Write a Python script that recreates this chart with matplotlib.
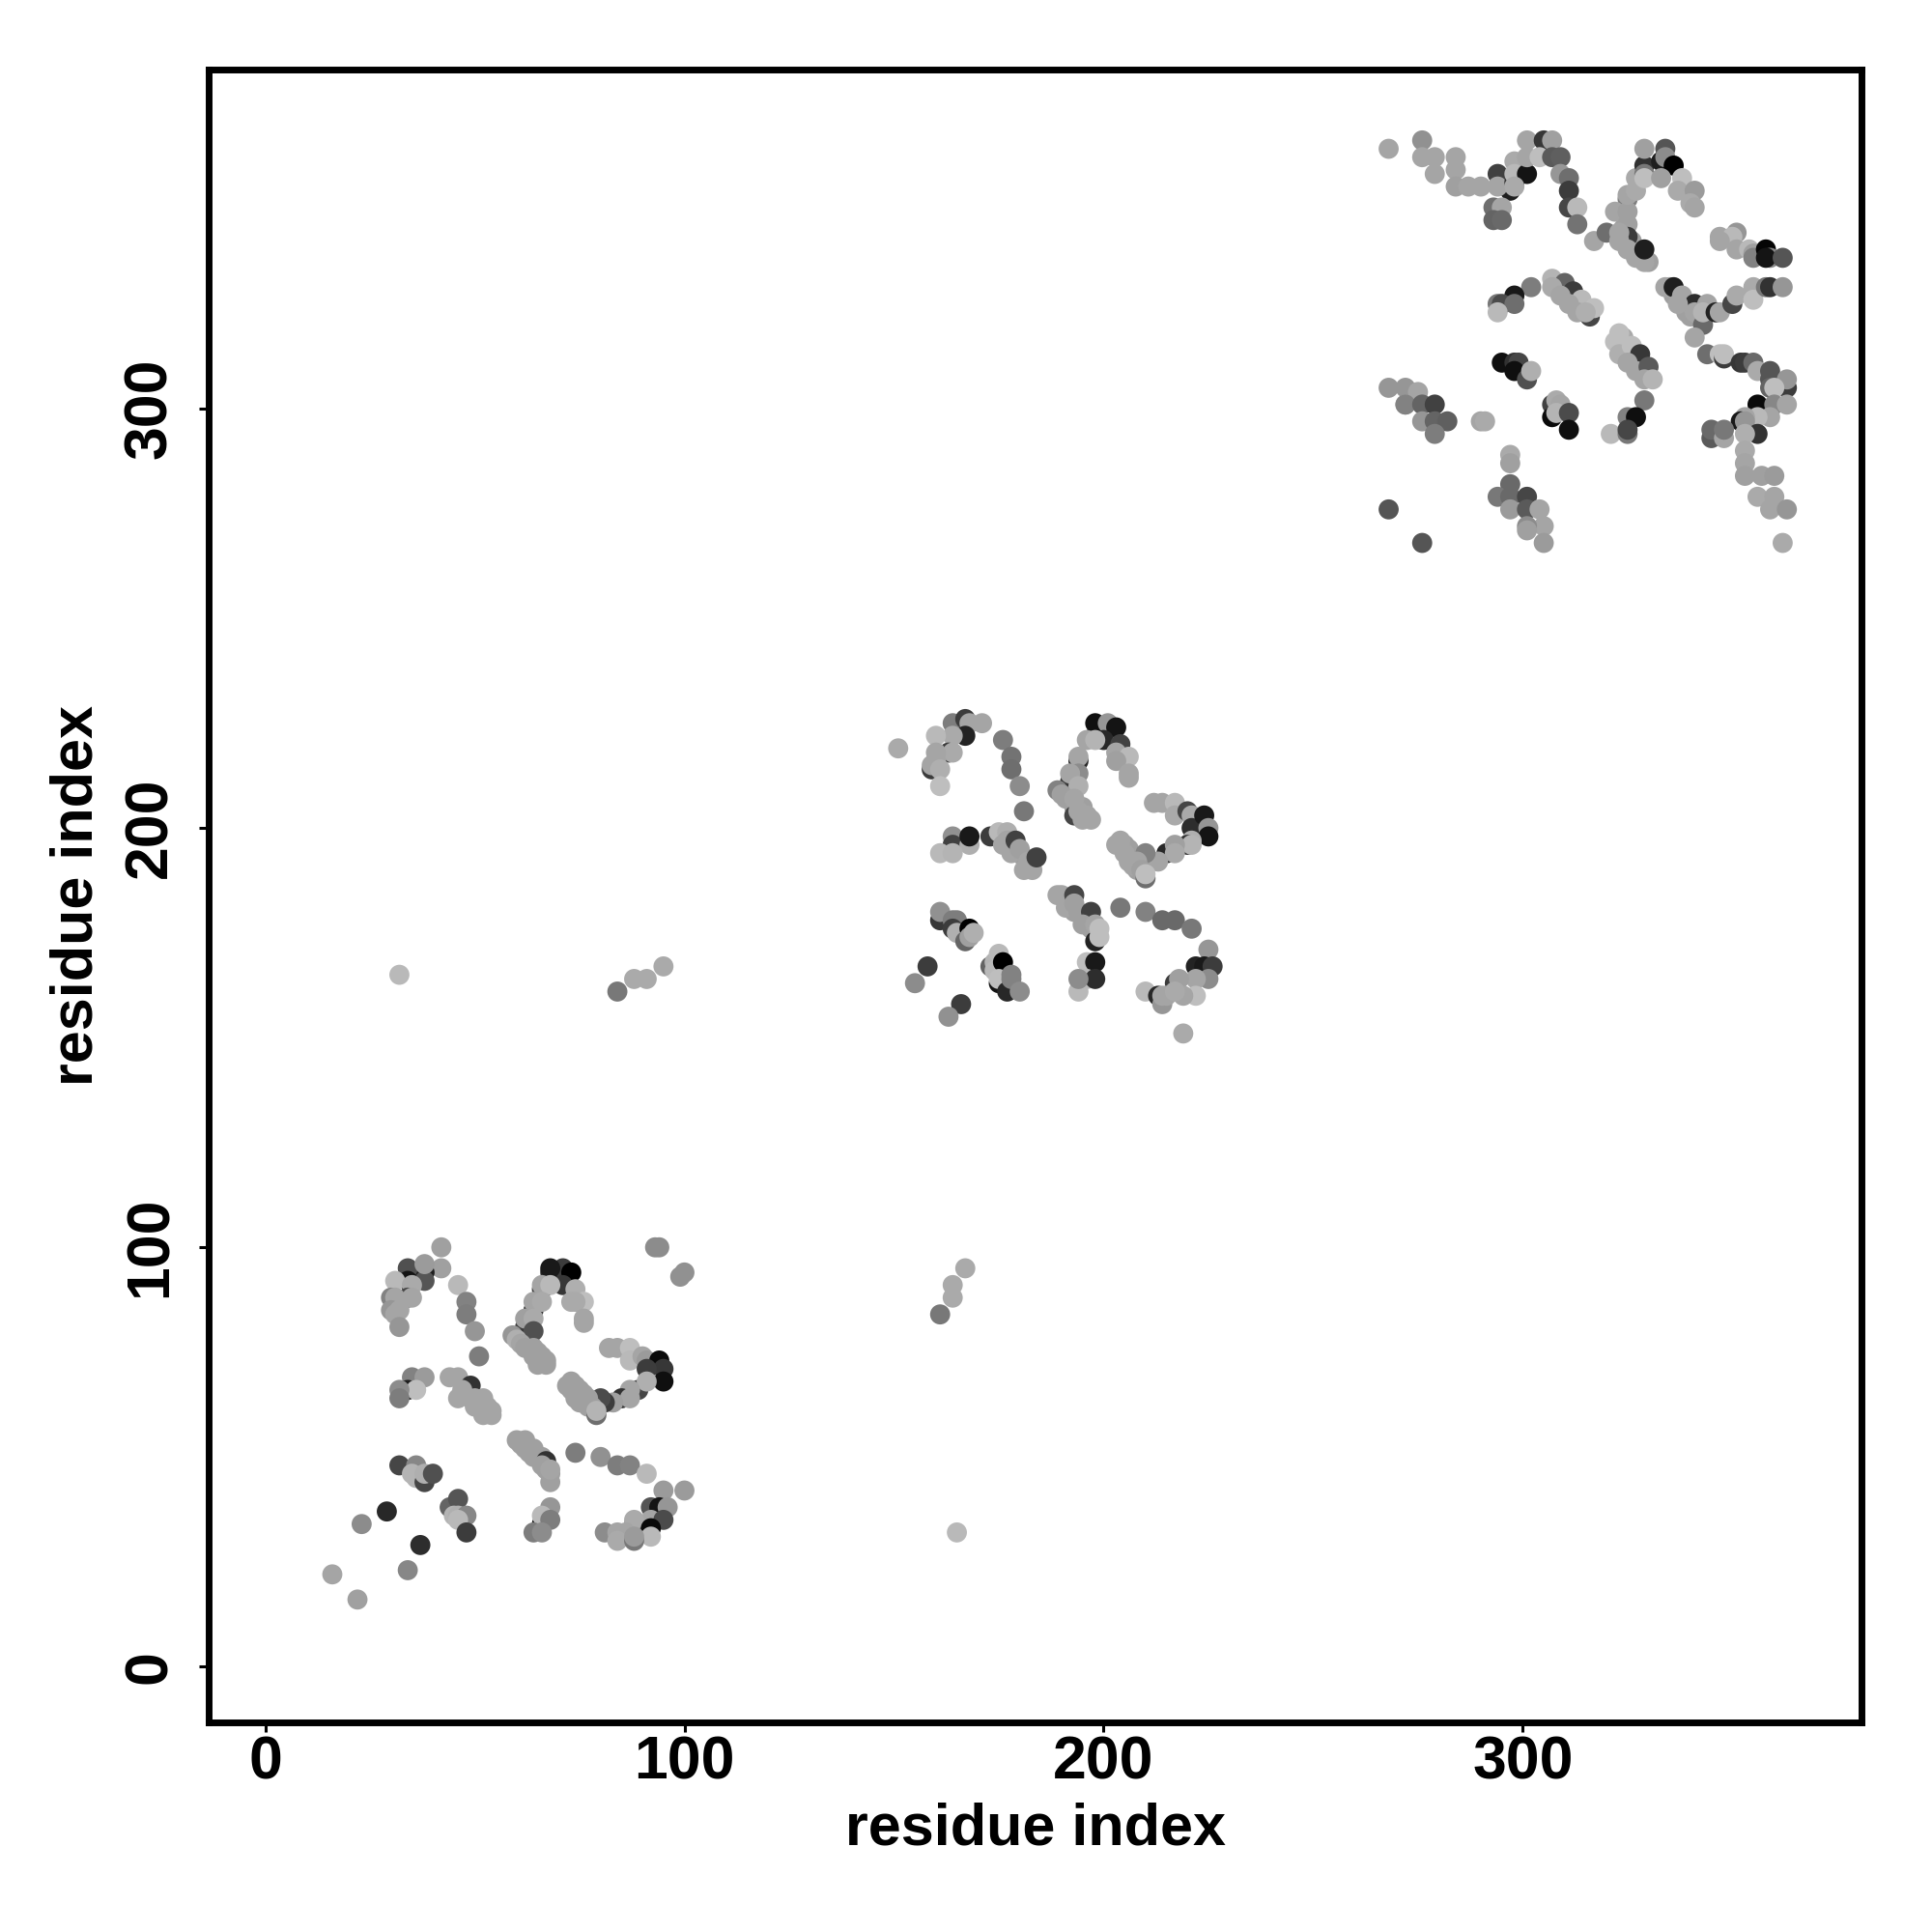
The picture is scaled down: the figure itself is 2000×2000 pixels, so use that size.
"""
Residue contact map, three domains, grey level per contact.
Output: out.png
"""
import matplotlib
matplotlib.use('Agg')
import matplotlib.pyplot as plt

plt.rcParams['font.family'] = ['Liberation Sans', 'DejaVu Sans']

# domain 1 (residues 16-100)
d1_x = [61, 63, 65, 66, 67, 48, 49, 51, 52, 53, 72, 73, 74, 75, 76, 77, 63, 65, 67,
        42, 42, 38, 34, 38, 38, 34, 31, 35, 34, 35, 30, 31, 30, 32, 31, 32, 46, 48, 48, 50, 51,
        68, 71, 73, 68, 71, 66, 66, 68, 74, 73, 76, 74, 76, 76, 64, 64, 66, 62, 62, 64, 64, 59, 60, 61, 62, 64, 64, 66, 65, 67,
        93, 94, 99, 100, 82, 84, 87, 87, 90, 91, 94, 95, 95, 91, 89, 91, 87, 85, 87, 83, 81, 80, 73, 74, 75, 76, 77, 78, 79, 79,
        35, 38, 34, 36, 32, 32, 44, 46, 49, 47, 46, 50, 50, 52, 53, 54, 54, 52,
        60, 62, 62, 64, 64, 67, 66, 68, 68, 68, 74, 80, 84, 87, 91,
        95, 100, 92, 94, 96, 92, 95, 88, 88, 92, 92, 81, 84, 86, 84, 88, 88,
        32, 36, 35, 36, 38, 38, 40, 44, 46, 45, 46, 48, 46, 48, 29, 23, 37, 34, 16, 22,
        68, 66, 66, 68, 64, 66]
d1_y = [53, 51, 50, 50, 47, 65, 64, 63, 62, 61, 67, 66, 64, 63, 63, 62, 78, 75, 72,
        100, 95, 94, 95, 92, 96, 92, 92, 91, 88, 88, 88, 88, 85, 85, 84, 81, 91, 87, 84, 80, 74,
        94, 95, 94, 95, 91, 90, 91, 91, 90, 87, 87, 87, 83, 82, 85, 87, 87, 81, 83, 83, 80, 79, 78, 77, 76, 76, 74, 74, 72, 73,
        100, 100, 93, 94, 76, 76, 76, 73, 74, 73, 73, 71, 68, 71, 66, 68, 66, 64, 64, 63, 63, 64, 68, 67, 66, 65, 64, 62, 60, 61,
        69, 69, 66, 66, 66, 64, 69, 69, 67, 66, 64, 64, 62, 64, 62, 61, 60, 60,
        54, 54, 52, 52, 50, 49, 48, 46, 44, 47, 51, 50, 48, 48, 46,
        42, 42, 38, 38, 38, 35, 35, 34, 35, 33, 31, 32, 32, 32, 30, 30, 31,
        48, 48, 46, 45, 44, 46, 46, 38, 40, 36, 36, 36, 35, 32, 37, 34, 29, 23, 22, 16,
        38, 34, 36, 35, 32, 32]
d1_g = [160, 160, 160, 160, 160, 160, 160, 160, 160, 160, 160, 160, 160, 160, 160, 160, 160, 160, 160,
        160, 160, 30, 80, 85, 155, 20, 185, 170, 70, 165, 130, 165, 150, 165, 165, 150, 185, 130, 125, 150, 125,
        40, 60, 0, 25, 55, 60, 165, 185, 175, 170, 190, 170, 165, 165, 50, 165, 170, 60, 160, 170, 80, 150, 175, 165, 160, 160, 160, 160, 160, 160,
        140, 140, 145, 145, 165, 165, 190, 185, 165, 155, 10, 55, 15, 60, 70, 175, 165, 50, 165, 160, 60, 75, 160, 160, 160, 160, 160, 160, 110, 180,
        130, 155, 30, 190, 140, 125, 165, 165, 50, 165, 165, 165, 165, 165, 165, 165, 165, 165,
        160, 160, 160, 160, 160, 50, 160, 160, 160, 165, 125, 145, 125, 130, 185,
        155, 155, 85, 20, 150, 165, 75, 100, 170, 10, 185, 140, 165, 165, 170, 120, 155,
        70, 135, 180, 180, 70, 175, 80, 100, 85, 180, 175, 135, 185, 60, 40, 140, 45, 135, 165, 160,
        150, 20, 185, 125, 125, 140]

# domain 2 (residues 151-226)
d2_x = [191, 192, 193, 195, 196, 205, 206, 207, 208, 178, 180, 181, 182, 192, 193, 195, 196, 197,
        151, 164, 167, 168, 171, 167, 164, 160, 163, 164, 160, 160, 159, 159, 161, 161, 176, 178, 178, 180, 181,
        198, 198, 201, 203, 200, 204, 196, 198, 203, 206, 203, 206, 206, 194, 194, 192, 194, 192, 194, 189, 190, 191, 193, 193, 194, 196, 197, 195,
        212, 214, 217, 217, 220, 221, 221, 224, 225, 225, 221, 220, 221, 215, 217, 217, 211, 213, 210, 204, 203, 205, 206, 208, 207, 209, 210, 210,
        164, 164, 168, 161, 164, 168, 173, 175, 177, 176, 177, 178, 179, 180, 182, 183, 181, 184,
        161, 161, 164, 165, 164, 165, 168, 167, 168, 169,
        189, 190, 191, 193, 193, 194, 197, 195, 198, 198, 199, 199,
        204, 210, 214, 217, 221, 225, 222, 224, 226, 225, 222, 217, 218,
        222, 219, 210, 213, 214, 214, 215, 217, 219,
        196, 198, 194, 196, 198, 194, 158, 155, 166, 163,
        173, 174, 175, 174, 175, 176, 175, 177, 178, 178, 180]
d2_y = [209, 207, 205, 205, 203, 196, 195, 193, 190, 196, 194, 193, 191, 182, 180, 179, 178, 176,
        219, 225, 226, 225, 225, 222, 222, 222, 218, 218, 218, 216, 214, 215, 214, 210, 221, 217, 214, 210, 204,
        222, 225, 225, 224, 221, 220, 221, 221, 218, 217, 216, 212, 213, 216, 217, 211, 213, 213, 210, 209, 208, 207, 203, 207, 204, 203, 202, 202,
        206, 206, 206, 203, 204, 203, 200, 203, 200, 198, 197, 196, 196, 194, 196, 194, 192, 192, 194, 197, 196, 194, 192, 192, 191, 190, 188, 189,
        198, 196, 196, 194, 194, 198, 198, 199, 199, 196, 197, 194, 197, 195, 192, 190, 190, 193,
        178, 180, 178, 178, 176, 175, 176, 173, 174, 175,
        184, 184, 181, 184, 182, 180, 180, 177, 173, 177, 176, 174,
        181, 180, 178, 178, 176, 171, 167, 167, 167, 164, 164, 163, 164,
        160, 160, 161, 160, 158, 160, 160, 161, 151,
        168, 168, 161, 164, 164, 164, 167, 163, 158, 155,
        167, 168, 170, 166, 163, 168, 164, 161, 165, 164, 161]
d2_g = [160, 160, 160, 160, 160, 160, 160, 160, 160, 160, 160, 160, 160, 160, 160, 160, 160, 160,
        170, 125, 60, 165, 165, 35, 170, 185, 60, 170, 165, 165, 60, 165, 175, 190, 125, 115, 110, 140, 120,
        50, 15, 150, 20, 40, 65, 165, 180, 165, 185, 160, 165, 165, 40, 165, 55, 140, 165, 175, 130, 160, 160, 70, 165, 165, 165, 165, 165,
        165, 165, 185, 170, 70, 170, 45, 25, 150, 20, 175, 50, 180, 40, 160, 170, 60, 165, 130, 165, 165, 165, 165, 165, 165, 160, 110, 190,
        145, 65, 175, 185, 180, 25, 60, 185, 175, 165, 165, 165, 65, 160, 165, 165, 165, 65,
        55, 145, 125, 125, 60, 175, 0, 100, 160, 175,
        165, 165, 165, 70, 160, 160, 65, 160, 35, 165, 190, 190,
        120, 130, 105, 105, 120, 150, 35, 25, 60, 140, 165, 60, 160,
        190, 165, 185, 40, 150, 165, 165, 170, 170,
        190, 25, 185, 185, 45, 140, 60, 140, 60, 145,
        100, 180, 185, 185, 20, 0, 190, 40, 130, 130, 140]

# domain 3 (residues 268-363)
d3_x = [324, 326, 328, 330, 308, 310, 312, 314, 336, 338, 339, 340, 324, 325, 327, 328, 329,
        268, 276, 276, 279, 279, 284, 284, 284, 287, 290,
        297, 294, 294, 298, 298, 298, 301, 298, 301, 305, 307, 301, 304, 307, 309, 309, 311, 311, 311, 313, 313, 293, 295, 293, 295,
        317, 320, 325, 322, 325, 325, 325, 325, 327, 327, 329, 329, 329, 329, 323, 323, 325, 327, 329, 329,
        333, 334, 334, 336, 333, 338, 337, 341, 340, 341,
        347, 351, 350, 347, 351, 354, 355, 355, 358, 359, 358, 362,
        302, 298, 294, 295, 298, 294, 307, 310, 312, 307, 309, 314, 311, 313, 316, 317, 315,
        335, 334, 336, 338, 341, 337, 341, 343, 341, 344, 343, 346, 347, 350, 351, 355, 355, 358, 359, 362,
        344, 347, 348, 348, 352, 353, 355, 356, 359, 359, 363, 363, 359, 360,
        356, 360, 363, 359, 355, 356, 353, 352, 353, 356, 345, 345, 348, 348, 353,
        353, 353, 353, 357, 360, 356, 360, 359, 363, 362,
        322, 323, 323, 323, 326, 328, 325, 327, 330, 329, 331,
        329, 325, 327, 321, 325, 325,
        295, 298, 299, 298, 301, 302,
        307, 308, 309, 307, 308, 311, 311,
        268, 272, 275, 272, 272, 276, 279, 276, 279, 282, 279, 290, 291,
        297, 297, 297, 294, 297, 301, 297, 301, 304, 305, 301, 301, 305, 268, 276]
d3_y = [343, 340, 337, 335, 330, 328, 326, 324, 327, 325, 323, 322, 317, 314, 312, 310, 309,
        362, 364, 360, 360, 356, 360, 357, 353, 353, 353,
        352, 356, 353, 359, 354, 356, 356, 353, 364, 364, 364, 360, 360, 360, 360, 356, 355, 352, 348, 348, 344, 348, 348, 345, 345,
        340, 342, 350, 347, 347, 344, 341, 351, 352, 355, 358, 356, 355, 362, 342, 340, 338, 336, 335, 338,
        359, 362, 360, 358, 355, 355, 352, 352, 349, 348,
        341, 342, 341, 340, 338, 338, 337, 336, 338, 336, 336, 336,
        329, 327, 325, 325, 325, 323, 331, 330, 328, 329, 327, 326, 325, 323, 322, 324, 323,
        329, 329, 329, 327, 325, 325, 323, 320, 317, 325, 323, 323, 323, 325, 327, 329, 326, 329, 329, 329,
        313, 313, 312, 313, 311, 311, 311, 309, 309, 307, 305, 307, 305, 305,
        301, 301, 301, 298, 298, 298, 298, 297, 297, 294, 293, 295, 293, 295, 294,
        290, 287, 284, 284, 284, 279, 279, 276, 276, 268,
        316, 318, 315, 313, 315, 313, 311, 309, 310, 307, 307,
        302, 298, 298, 294, 294, 295,
        311, 311, 311, 309, 307, 309,
        301, 302, 301, 298, 299, 299, 295,
        305, 305, 304, 301, 301, 301, 301, 297, 297, 297, 294, 297, 297,
        289, 287, 282, 279, 279, 279, 276, 276, 276, 272, 272, 271, 268, 276, 268]
d3_g = [160, 160, 160, 160, 165, 165, 165, 165, 160, 160, 160, 160, 170, 170, 165, 165, 165,
        165, 145, 165, 165, 165, 165, 165, 160, 165, 165,
        30, 65, 165, 170, 50, 185, 20, 170, 165, 55, 160, 165, 190, 90, 95, 150, 110, 60, 70, 185, 115, 110, 165, 100, 105,
        165, 110, 125, 165, 160, 160, 60, 165, 170, 170, 50, 120, 190, 160, 165, 165, 165, 165, 165, 30,
        30, 85, 140, 0, 160, 190, 170, 155, 170, 165,
        165, 150, 185, 165, 165, 185, 160, 130, 5, 135, 20, 85,
        125, 25, 120, 75, 110, 185, 180, 100, 60, 170, 165, 185, 165, 165, 70, 190, 175,
        170, 165, 30, 165, 45, 165, 165, 105, 165, 165, 180, 35, 165, 70, 170, 170, 190, 120, 50, 150,
        110, 190, 60, 190, 55, 60, 105, 170, 85, 85, 60, 150, 100, 190,
        10, 135, 165, 165, 15, 185, 165, 25, 150, 50, 90, 105, 165, 120, 175,
        170, 165, 160, 160, 155, 170, 165, 165, 150, 170,
        190, 190, 190, 175, 190, 55, 165, 165, 90, 165, 180,
        120, 130, 15, 185, 120, 70,
        15, 50, 70, 15, 80, 175,
        65, 170, 165, 10, 180, 75, 15,
        150, 150, 165, 165, 130, 100, 65, 150, 100, 95, 125, 165, 170,
        170, 160, 105, 120, 105, 70, 155, 90, 165, 165, 140, 160, 155, 85, 85]

# contacts between domains 1 and 2
off_x = [32, 84, 88, 91, 95, 161, 164, 164, 167, 165]
off_y = [165, 161, 164, 164, 167, 84, 88, 91, 95, 32]
off_g = [185, 120, 170, 170, 170, 120, 170, 170, 170, 185]

ticks = [0, 100, 200, 300]

fig = plt.figure(figsize=(10, 10), dpi=200)
ax = fig.add_axes([216 / 2000, 1 - 1783 / 2000, (1927 - 216) / 2000, (1783 - 72) / 2000])

for xs, ys, gs in [(d1_x, d1_y, d1_g), (d2_x, d2_y, d2_g), (d3_x, d3_y, d3_g), (off_x, off_y, off_g)]:
    cols = [(g / 255, g / 255, g / 255) for g in gs]
    ax.scatter(xs, ys, c=cols, s=56, linewidths=0, zorder=2)

ax.set_xlim(-13.5, 380.8)
ax.set_ylim(-13.3, 380.9)
ax.set_xticks(ticks)
ax.set_yticks(ticks)
ax.tick_params(axis='both', length=3.6, width=1.1, labelsize=22.5)
ax.tick_params(axis='x', pad=1)
ax.tick_params(axis='y', pad=7.5)
for lab in ax.get_xticklabels():
    lab.set_fontweight('bold')
for lab in ax.get_yticklabels():
    lab.set_fontweight('bold')
    lab.set_rotation(90)
    lab.set_va('center')
for sp in ax.spines.values():
    sp.set_linewidth(2.5)

fig.text(1072 / 2000, 1 - 1894 / 2000, 'residue index', fontsize=22, fontweight='bold',
         ha='center', va='center')
fig.text(80 / 2000, 1 - 927 / 2000, 'residue index', fontsize=22, fontweight='bold',
         rotation=90, ha='center', va='center')

plt.savefig('out.png', dpi=200)
plt.close()
